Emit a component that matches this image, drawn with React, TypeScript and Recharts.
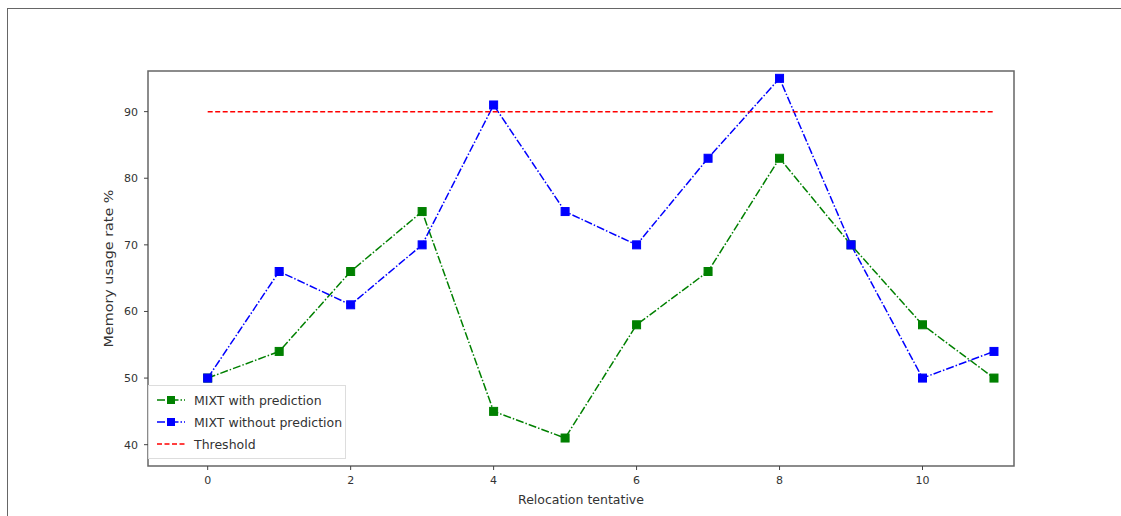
import React from "react";
import { LineChart, Line, XAxis, YAxis, ReferenceArea, Legend } from "recharts";

const steps = [0, 1, 2, 3, 4, 5, 6, 7, 8, 9, 10, 11];
const withPrediction = [50, 54, 66, 75, 45, 41, 58, 66, 83, 70, 58, 50];
const withoutPrediction = [50, 66, 61, 70, 91, 75, 70, 83, 95, 70, 50, 54];
const threshold = [90, 90, 90, 90, 90, 90, 90, 90, 90, 90, 90, 90];
const xTicks = [0, 2, 4, 6, 8, 10];
const yTicks = [40, 50, 60, 70, 80, 90];

const data = steps.map((s, i) => ({
  x: s,
  withP: withPrediction[i],
  withoutP: withoutPrediction[i],
  thr: threshold[i],
}));

const X_DOMAIN: [number, number] = [-0.835, 11.28];
const Y_DOMAIN: [number, number] = [36.8, 96.1];
const FONT = "DejaVu Sans, sans-serif";

const Square = (color: string) => (props: any) => {
  const { cx, cy } = props;
  if (cx == null || cy == null) return null;
  return <rect x={cx - 4} y={cy - 4} width={8} height={8} fill={color} stroke={color} />;
};

const YLabel = (props: any) => {
  const vb = props.viewBox || {};
  const cx = (vb.x ?? 0) + 20;
  const cy = (vb.y ?? 0) + (vb.height ?? 0) / 2;
  return (
    <text
      x={cx}
      y={cy}
      transform={`rotate(-90 ${cx} ${cy})`}
      textAnchor="middle"
      dominantBaseline="central"
      fontSize={12.5}
      fill="#333"
      fontFamily={FONT}
      textLength={158}
      lengthAdjust="spacingAndGlyphs"
    >
      Memory usage rate %
    </text>
  );
};

const renderLegend = (props: any) => {
  const { payload } = props;
  return (
    <div
      style={{
        border: "1px solid #ddd",
        background: "rgba(255,255,255,0.8)",
        padding: "3px 6px 3px 6px",
        fontFamily: FONT,
        fontSize: 12.5,
        color: "#333",
        width: 198,
        boxSizing: "border-box",
        whiteSpace: "nowrap",
      }}
    >
      {payload.map((p: any) => {
        const isThr = p.dataKey === "thr";
        return (
          <div key={p.value} style={{ display: "flex", alignItems: "center", height: 22 }}>
            <svg width={32} height={12} style={{ marginRight: 7, flex: "none" }}>
              <line
                x1={2}
                y1={6}
                x2={30}
                y2={6}
                stroke={p.color}
                strokeWidth={1.5}
                strokeDasharray={isThr ? "5 2.5" : "8 2 1.5 2"}
              />
              {!isThr && <rect x={12} y={2} width={8} height={8} fill={p.color} />}
            </svg>
            <span>{p.value}</span>
          </div>
        );
      })}
    </div>
  );
};

export default function App() {
  return (
    <div style={{ position: "relative", width: 1105, height: 500 }}>
      <div
        style={{
          position: "fixed",
          left: 7,
          top: 8,
          width: 1114,
          height: 508,
          borderTop: "1px solid #666",
          borderLeft: "1px solid #666",
          boxSizing: "border-box",
          pointerEvents: "none",
          zIndex: 5,
        }}
      />
      <LineChart
        width={1105}
        height={500}
        data={data}
        margin={{ top: 63, right: 99, bottom: 8, left: 80 }}
      >
        <XAxis
          dataKey="x"
          type="number"
          domain={X_DOMAIN}
          ticks={xTicks}
          allowDataOverflow
          axisLine={false}
          tickLine={{ stroke: "#444" }}
          tickSize={4}
          tickMargin={6}
          tick={{ fontSize: 11, fill: "#333", fontFamily: FONT }}
          height={34}
          label={{
            value: "Relocation tentative",
            position: "insideBottom",
            offset: -4,
            style: { fontSize: 12.5, fill: "#333", fontFamily: FONT },
          }}
        />
        <YAxis
          type="number"
          domain={Y_DOMAIN}
          ticks={yTicks}
          allowDataOverflow
          axisLine={false}
          tickLine={{ stroke: "#444" }}
          tickSize={4}
          tickMargin={6}
          tick={{ fontSize: 11, fill: "#333", fontFamily: FONT }}
          width={60}
          label={<YLabel />}
        />
        <ReferenceArea
          x1={X_DOMAIN[0]}
          x2={X_DOMAIN[1]}
          y1={Y_DOMAIN[0]}
          y2={Y_DOMAIN[1]}
          fill="none"
          stroke="#666"
          strokeWidth={1.5}
          ifOverflow="visible"
        />
        <Line
          dataKey="withP"
          name="MIXT with prediction"
          stroke="#008000"
          strokeWidth={1.5}
          strokeDasharray="8 2 1.5 2"
          dot={Square("#008000")}
          activeDot={false}
          isAnimationActive={false}
        />
        <Line
          dataKey="withoutP"
          name="MIXT without prediction"
          stroke="#0000ff"
          strokeWidth={1.5}
          strokeDasharray="8 2 1.5 2"
          dot={Square("#0000ff")}
          activeDot={false}
          isAnimationActive={false}
        />
        <Line
          dataKey="thr"
          name="Threshold"
          stroke="#ff0000"
          strokeWidth={1.5}
          strokeDasharray="5 2.5"
          dot={false}
          activeDot={false}
          isAnimationActive={false}
        />
        <Legend
          content={renderLegend}
          layout="vertical"
          verticalAlign="middle"
          align="center"
          wrapperStyle={{ left: 140, top: 377, width: 200 }}
        />
      </LineChart>
    </div>
  );
}
